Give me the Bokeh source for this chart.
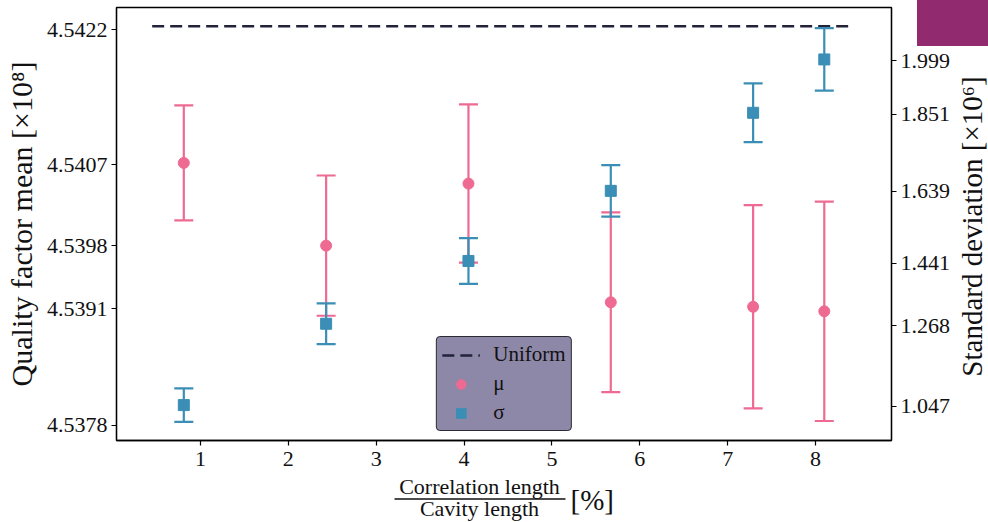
import math
from bokeh.plotting import figure
from bokeh.layouts import column, row
from bokeh.models import (Range1d, LinearAxis, FixedTicker, Legend, LegendItem,
                          PrintfTickFormatter, InlineStyleSheet)
from bokeh.core.properties import value
from bokeh.embed import file_html
from bokeh.resources import INLINE

# ---------------- data ----------------
ratio = [0.81, 2.43, 4.05, 5.67, 7.29, 8.10]                 # correlation / cavity length [%]
mu = [4.54072, 4.53980, 4.54049, 4.53917, 4.53912, 4.53907]  # quality factor mean [x1e8]
mu_err = [0.00064, 0.00078, 0.00088, 0.00100, 0.00113, 0.00122]
sigma = [1.050, 1.274, 1.447, 1.640, 1.855, 2.002]           # standard deviation [x1e6]
sigma_err = [0.046, 0.056, 0.063, 0.071, 0.081, 0.086]
uniform_x = [0.45, 8.43]
uniform_mu = 4.54224
x_ticks = [1, 2, 3, 4, 5, 6, 7, 8]
mu_ticks = [4.5378, 4.5391, 4.5398, 4.5407, 4.5422]
sigma_ticks = [1.047, 1.268, 1.441, 1.639, 1.851, 1.999]
xlabel_num = "Correlation length"
xlabel_den = "Cavity length"
xlabel_unit = "[%]"
ylabel_left = "Quality factor mean [×10⁸]"
ylabel_right = "Standard deviation [×10⁶]"

PINK = "#ee6a92"
BLUE = "#3b8eb5"
DARK = "#22223b"
FONT = "Liberation Serif"

corner = InlineStyleSheet(css=":host::after { content: ''; position: absolute; top: 0; right: 0;"
                              " width: 71px; height: 46px; background: #922a6f; z-index: 10; }")

p = figure(width=953, height=474, output_backend="svg", toolbar_location=None,
           x_range=Range1d(0.044, 8.865), y_range=Range1d(4.537633, 4.542448),
           min_border_left=116, min_border_right=62, min_border_top=7, min_border_bottom=34)
p.extra_y_ranges = {"sd": Range1d(0.9525, 2.145)}
p.grid.visible = False
p.outline_line_color = "black"
p.outline_line_width = 1.3
p.outline_line_alpha = 1
p.background_fill_color = "white"
p.border_fill_color = "white"

# uniform reference
uline = p.line(uniform_x, [uniform_mu, uniform_mu], line_color=DARK, line_width=2.5,
               line_dash="12 6")

# mean with error bars
mu_lo = [m - e for m, e in zip(mu, mu_err)]
mu_hi = [m + e for m, e in zip(mu, mu_err)]
p.segment(x0=ratio, y0=mu_lo, x1=ratio, y1=mu_hi, line_color=PINK, line_width=2.2)
p.scatter(ratio, mu_lo, marker="dash", size=19, line_color=PINK, line_width=2.2)
p.scatter(ratio, mu_hi, marker="dash", size=19, line_color=PINK, line_width=2.2)
mu_r = p.scatter(ratio, mu, marker="circle", size=11, fill_color=PINK, line_color=PINK)

# std with error bars (right axis)
sd_lo = [s - e for s, e in zip(sigma, sigma_err)]
sd_hi = [s + e for s, e in zip(sigma, sigma_err)]
p.segment(x0=ratio, y0=sd_lo, x1=ratio, y1=sd_hi, line_color=BLUE, line_width=2.2,
          y_range_name="sd")
p.scatter(ratio, sd_lo, marker="dash", size=19, line_color=BLUE, line_width=2.2, y_range_name="sd")
p.scatter(ratio, sd_hi, marker="dash", size=19, line_color=BLUE, line_width=2.2, y_range_name="sd")
sd_r = p.scatter(ratio, sigma, marker="square", size=11, fill_color=BLUE, line_color=BLUE,
                 y_range_name="sd")

# axes
def style_axis(ax):
    ax.major_label_text_font = FONT
    ax.major_label_text_font_size = "22px"
    ax.major_label_text_color = "#111111"
    ax.axis_label_text_font = FONT
    ax.axis_label_text_font_style = "normal"
    ax.axis_label_text_color = "#111111"
    ax.minor_tick_line_color = None
    ax.major_tick_out = 5
    ax.major_tick_in = 0
    ax.major_tick_line_width = 1.2
    ax.axis_line_width = 1.3

xa = p.xaxis[0]
xa.ticker = FixedTicker(ticks=x_ticks)
style_axis(xa)
xa.major_label_standoff = 6

ya = p.yaxis[0]
ya.ticker = FixedTicker(ticks=mu_ticks)
ya.formatter = PrintfTickFormatter(format="%.4f")
style_axis(ya)
ya.axis_label = ylabel_left
ya.axis_label_text_font_size = "30px"
ya.major_label_standoff = 4
ya.axis_label_standoff = 6

ra = LinearAxis(y_range_name="sd", ticker=FixedTicker(ticks=sigma_ticks),
                formatter=PrintfTickFormatter(format="%.3f"))
style_axis(ra)
ra.major_label_standoff = 4
p.add_layout(ra, "right")

# legend
legend = Legend(items=[LegendItem(label="Uniform", renderers=[uline]),
                       LegendItem(label="μ", renderers=[mu_r]),
                       LegendItem(label="σ", renderers=[sd_r])],
                location="bottom_center", margin=9, padding=5, spacing=4,
                glyph_width=38, glyph_height=24, label_standoff=14,
                label_text_font=FONT, label_text_font_size="21px",
                label_text_color="#111111",
                background_fill_color="#8e88a8", background_fill_alpha=1,
                border_line_color="#2b2b33", border_line_width=1.2, border_line_alpha=1)
try:
    legend.border_radius = 4
except Exception:
    pass
p.add_layout(legend, "center")

# right-hand strip with the right axis title (page pixel coordinates)
r = figure(width=35, height=474, output_backend="svg", toolbar_location=None,
           x_range=Range1d(953, 988), y_range=Range1d(440, 7),
           x_axis_location=None, y_axis_location=None,
           min_border_left=0, min_border_right=0, min_border_top=7, min_border_bottom=34)
r.grid.visible = False
r.outline_line_color = None
r.border_fill_color = "white"
r.text(x=[971], y=[226], text=[ylabel_right], angle=math.pi / 2, text_font=value(FONT),
       text_font_size="29px", text_align="center", text_baseline="middle", text_color="#111111")

# bottom strip with the x-axis title drawn as a fraction (page pixel coordinates)
q = figure(width=988, height=48, output_backend="svg", toolbar_location=None,
           x_range=Range1d(116, 891), y_range=Range1d(522, 474),
           x_axis_location=None, y_axis_location=None,
           min_border_left=116, min_border_right=97, min_border_top=0, min_border_bottom=0)
q.grid.visible = False
q.outline_line_color = None
q.border_fill_color = "white"
q.text(x=[479], y=[485.5], text=[xlabel_num], text_font=value(FONT), text_font_size="22px",
       text_align="center", text_baseline="middle", text_color="#111111")
q.text(x=[479], y=[507.5], text=[xlabel_den], text_font=value(FONT), text_font_size="22px",
       text_align="center", text_baseline="middle", text_color="#111111")
q.segment(x0=[394], y0=[498.5], x1=[565], y1=[498.5], line_color="#111111", line_width=1.5)
q.text(x=[570], y=[499], text=[xlabel_unit], text_font=value(FONT), text_font_size="29px",
       text_align="left", text_baseline="middle", text_color="#111111")

layout = column(row(p, r, spacing=0), q, spacing=0, stylesheets=[corner])
open("out.html", "w").write(file_html(layout, INLINE))
